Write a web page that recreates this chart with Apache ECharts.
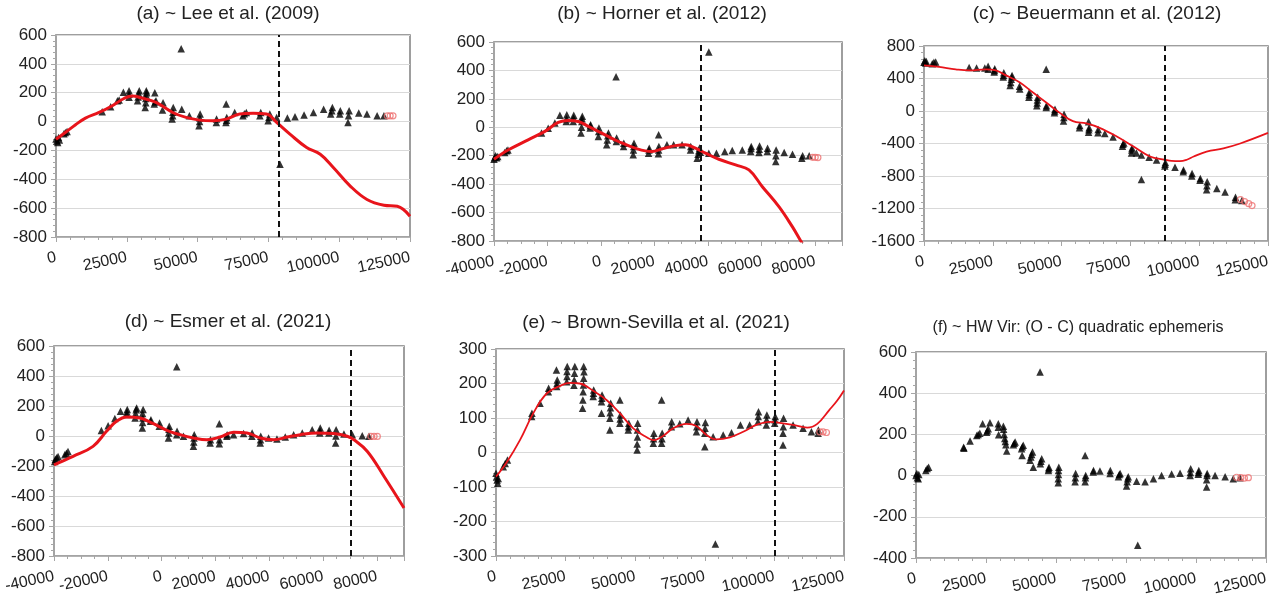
<!DOCTYPE html>
<html>
<head>
<meta charset="utf-8">
<script src="https://cdn.jsdelivr.net/npm/echarts@6/dist/echarts.min.js"></script>
<style>
html,body{margin:0;padding:0;background:#fff;}
#chart{width:1279px;height:595px;}
</style>
</head>
<body>
<div id="chart"></div>
<script>
// ---------- titles ----------
const titles = [
  '(a) ~ Lee et al. (2009)',
  '(b) ~ Horner et al. (2012)',
  '(c) ~ Beuermann et al. (2012)',
  '(d) ~ Esmer et al. (2021)',
  '(e) ~ Brown-Sevilla et al. (2021)',
  '(f) ~ HW Vir: (O - C) quadratic ephemeris'
];

// ---------- axis ranges [min, max, interval] ----------
const xRangeA = [0, 125000, 25000];
const xRangeB = [-40000, 90000, 20000];
const xRangeC = [0, 125000, 25000];
const xRangeD = [-40000, 90000, 20000];
const xRangeE = [0, 125000, 25000];
const xRangeF = [0, 125000, 25000];
const yRangeA = [-800, 600, 200];
const yRangeB = [-800, 600, 200];
const yRangeC = [-1600, 800, 400];
const yRangeD = [-800, 600, 200];
const yRangeE = [-300, 300, 100];
const yRangeF = [-400, 600, 200];

// ---------- panel (a) ----------
const aObs = [[0,-120],[300,-135],[600,-145],[900,-110],[1200,-128],[2800,-85],[3300,-75],[3900,-68],
  [16300,68],[19300,103],[21700,145],[22300,150],[23800,203],[25800,168],[25800,190],[25800,214],
  [28800,145],[29000,170],[29200,195],[29400,214],[31500,98],[31700,130],[31700,160],[31800,185],[31900,214],[32000,200],
  [34700,121],[35000,135],[35300,145],[34900,200],[37600,80],[37800,130],[41000,17],[41200,40],[41300,65],[41400,98],
  [44200,505],[44400,86],[47100,40],[50500,-29],[50700,0],[50800,25],[50900,52],[56600,-6],[56700,17],
  [60100,121],[60000,-6],[60200,10],[60300,29],[63100,63],[66000,40],[66500,55],[67200,63],[72000,40],[72300,63],
  [74900,5],[75200,30],[75500,52],[77900,29],[79100,-295],[81700,24],[84400,33],[87600,45],[90900,63],[94500,86],
  [97000,52],[97400,75],[97600,98],[100200,52],[100400,75],[103100,-6],[103300,40],[103500,75],
  [106900,59],[109800,52],[113400,40],[115800,40]];
const aNew = [[117000,40],[118000,40],[119000,40]];
const aFit = [[0,-122],[3300,-76],[6900,-22],[10400,24],[15200,63],[19900,110],[24000,160],[27000,178],[30000,165],
  [35300,133],[41200,63],[45900,29],[50700,10],[55400,5],[60100,17],[64900,52],[69600,57],[74300,52],[77900,-6],
  [82600,-87],[88500,-180],[93300,-227],[98000,-320],[103900,-447],[109800,-540],[115800,-580],[120500,-587],[125000,-656]];
const aEpoch = 78500;

// ---------- panel (b) ----------
const bObs = [[-40000,-225],[-39700,-210],[-39400,-200],[-39000,-215],[-38600,-205],[-36000,-178],[-35300,-165],[-34800,-160],
  [-22250,-41],[-19750,-6],[-17250,30],[-15400,84],[-13000,40],[-12900,60],[-12800,89],[-10400,40],[-10300,65],[-10200,84],
  [-7500,-40],[-7300,0],[-7200,40],[-7000,77],[-7100,60],[-4100,-5],[-4000,10],[-3900,18],[-1000,-64],[-900,-30],[-800,-5],
  [2100,-123],[2300,-90],[2500,-60],[2750,-41],[5600,355],[5700,-100],[5800,-76],[8400,-135],[8500,-112],
  [12000,-194],[12100,-160],[12200,-135],[12300,-112],[17750,-182],[17900,-160],[18000,-147],
  [21500,-53],[21400,-187],[21500,-160],[21600,-135],[24600,-123],[27100,-123],[30250,-123],[33400,-160],[33500,-135],
  [35900,-218],[36200,-190],[36500,-165],[36800,-145],[37100,-175],[40250,529],[40250,-182],[43100,-182],[46200,-170],
  [49000,-164],[52750,-159],[55900,-170],[56000,-150],[56100,-135],[59000,-178],[59100,-155],[59200,-131],
  [62100,-170],[62200,-147],[65250,-241],[65300,-200],[65400,-159],[68400,-178],[71500,-189],[75000,-218],[75300,-200],[77750,-201]];
const bNew = [[79000,-211],[80000,-211],[81000,-213]];
const bFit = [[-40000,-225],[-34750,-160],[-27250,-88],[-21000,-29],[-16000,34],[-12250,48],[-8500,41],[-4750,6],
  [1500,-53],[6500,-100],[12750,-147],[19000,-170],[22750,-152],[27750,-129],[31500,-123],[35250,-147],[39000,-182],
  [44000,-225],[50250,-265],[55250,-300],[60250,-418],[66500,-560],[71500,-701],[74600,-800],[77000,-870]];
const bEpoch = 37400;

// ---------- panel (c) ----------
const cObs = [[0,600],[300,620],[600,590],[850,610],[3000,583],[3600,600],[4250,604],[16400,534],[19100,530],[22100,530],
  [23300,550],[23300,513],[25500,480],[25600,500],[25700,521],[28800,417],[28900,440],[29000,471],
  [31300,313],[31500,350],[31700,390],[31900,420],[32000,438],[34700,305],[34800,272],[38100,168],[38200,200],[38300,230],
  [41000,64],[41100,100],[41200,135],[41300,168],[44400,513],[44400,43],[44500,64],[47400,-20],[47500,0],[47600,22],
  [50700,-124],[50800,-80],[50900,-40],[56500,-207],[56600,-178],[59800,-132],[59800,-261],[59900,-230],[60000,-207],
  [63200,-269],[63300,-228],[65700,-277],[68700,-319],[72100,-435],[72300,-410],[72600,-394],
  [75400,-518],[75500,-480],[75600,-456],[77200,-518],[79000,-843],[79000,-540],[81800,-569],[84500,-602],
  [87500,-677],[87600,-655],[87700,-635],[91200,-693],[94200,-747],[94300,-727],[97300,-801],[97400,-768],
  [100300,-851],[100400,-830],[102700,-968],[102800,-920],[102900,-872],[106400,-955],[109400,-997],
  [113100,-1093],[113200,-1060],[115500,-1101]];
const cNew = [[115000,-1090],[116500,-1115],[118000,-1140],[119200,-1164]];
const cFit = [[0,562],[5500,542],[11550,513],[16400,500],[22500,513],[26100,500],[29800,438],[34700,355],[39500,230],
  [44400,105],[49200,-20],[54100,-124],[59000,-153],[63800,-207],[69900,-311],[76000,-435],[82100,-560],[87500,-600],
  [90000,-615],[93000,-618],[95500,-600],[98000,-560],[102700,-500],[108800,-460],[114900,-400],[125000,-270]];
const cEpoch = 87550;

// ---------- panel (d) ----------
const dObs = [[-39750,-170],[-39500,-155],[-39000,-145],[-38500,-136],[-36000,-125],[-35400,-115],[-34800,-103],
  [-22400,36],[-19900,69],[-17400,116],[-15300,165],[-13000,143],[-12900,160],[-12800,176],
  [-9900,120],[-9700,150],[-9500,175],[-9300,187],[-7200,53],[-7100,90],[-7000,120],[-7100,150],[-6900,176],
  [-4100,98],[-4000,109],[-900,65],[-800,87],[2500,-13],[2600,20],[2700,45],[2800,65],[5600,461],[5600,9],[5700,31],
  [8100,-2],[11800,-69],[11900,-40],[12000,-13],[12100,9],[18000,-47],[18100,-25],[21400,82],[21400,-51],[21500,-25],
  [24200,-2],[24300,9],[26700,9],[30400,16],[33500,-2],[33600,20],[36600,-47],[36700,-25],[36800,-2],
  [39700,-13],[42800,-20],[45900,-7],[49000,9],[52200,20],[55900,42],[58700,20],[58800,35],[58900,53],
  [62100,20],[62200,38],[64600,-47],[64700,0],[64800,42],[67700,13],[70800,9],[74500,2],[77000,-2]];
const dNew = [[77700,-2],[78900,-2],[80100,-3]];
const dFit = [[-40000,-192],[-32900,-136],[-25500,-69],[-20500,31],[-16800,98],[-13000,127],[-8100,120],[-3100,82],
  [1900,38],[6800,9],[11800,-13],[16800,-25],[21700,-7],[26700,25],[31700,20],[36600,-13],[41600,-25],[46600,-7],
  [51500,9],[57700,20],[64000,16],[68900,-2],[71400,-25],[76400,-103],[82600,-270],[90000,-480]];
const dEpoch = 70200;

// ---------- panel (e) ----------
const eObs = [[0,-60],[200,-70],[400,-80],[600,-89],[800,-75],[2600,-41],[3300,-32],[4100,-22],
  [12800,104],[12900,114],[15800,143],[18800,176],[18900,186],[21800,191],[21900,200],[22000,210],[21700,239],
  [25400,205],[25500,220],[25500,235],[25600,249],[28000,195],[28100,210],[28200,230],[28300,249],
  [31100,128],[31200,152],[31300,176],[31400,196],[31500,215],[31600,234],[31500,249],[34900,162],[35000,172],[35100,181],
  [37900,147],[38000,157],[38100,167],[37900,114],[40900,65],[40900,99],[41000,115],[41100,130],[41200,143],
  [44500,152],[44500,85],[44600,97],[44700,109],[47500,65],[47600,75],[47700,85],
  [50700,7],[50700,25],[50800,45],[50800,65],[50900,85],[56500,27],[56600,40],[56700,56],
  [59500,152],[59500,27],[59600,40],[59700,56],[63000,75],[63100,89],[66000,83],[69000,94],
  [72000,60],[72100,75],[72200,89],[75000,17],[75000,56],[75100,70],[75200,87],[78000,46],[78800,-265],
  [81600,51],[84600,57],[87800,80],[91100,80],[94100,89],[94200,104],[94300,118],[97100,80],[97200,95],[97300,109],
  [100100,85],[100200,95],[100300,104],[103100,22],[103100,56],[103200,75],[103300,99],
  [106700,80],[110300,70],[113300,60],[115700,56],[115800,65]];
const eNew = [[116300,60],[117500,60],[118700,58]];
const eFit = [[0,-70],[3800,-29],[8600,36],[13400,114],[18200,171],[23000,193],[26600,202],[30100,200],[34900,179],
  [39700,152],[44500,114],[49300,70],[54100,44],[56500,36],[60000,48],[63600,70],[68400,83],[72000,77],[75600,51],
  [79200,38],[84000,44],[88800,60],[93500,80],[98300,89],[101900,86],[106700,80],[111800,72],[115400,83],
  [119700,123],[122500,150],[125000,180]];
const eEpoch = 100300;

// ---------- panel (f) ----------
const fObs = [[0,0],[300,10],[500,-10],[800,-15],[1000,5],[3500,25],[4000,35],[4500,40],[17000,138],[17100,133],
  [19300,168],[21700,195],[22200,200],[22800,205],[23800,252],[25200,210],[25500,218],[25800,228],[26400,257],
  [29400,252],[29400,235],[29500,198],[31200,240],[31300,225],[31500,200],[31700,180],[31900,165],[32100,150],[32400,120],
  [34800,150],[35100,157],[35400,163],[37700,130],[38000,140],[38300,147],[37900,98],
  [40700,75],[41000,90],[41300,103],[41600,115],[41900,40],[44300,503],[44400,58],[44600,70],[44900,82],
  [47300,25],[47400,33],[47500,40],[50800,-35],[50800,-15],[50900,5],[50900,25],[51000,40],
  [56800,-30],[56900,-10],[57000,10],[60400,98],[60400,-30],[60500,-10],[60600,0],[63300,18],[63400,25],[65700,22],
  [69300,10],[69400,25],[72300,-5],[72600,5],[72900,10],[75200,-50],[75400,-30],[75600,-15],[75800,-5],
  [78800,-27],[79200,-338],[81800,-30],[84800,-15],[87700,0],[91300,8],[94300,12],[97900,0],[98000,15],[98100,33],
  [100800,6],[100900,15],[101000,25],[103800,-55],[103800,-20],[103900,0],[104000,10],
  [106800,0],[110400,-5],[113300,-15],[115700,-10]];
const fNew = [[114500,-8],[116000,-10],[117300,-12],[118700,-10]];

// ---------- layout (positions / styles) ----------
const panels = [
  {grid:{left:56, top:35, width:354, height:202}, tx:228, ty:4,   tfs:19, x:xRangeA, y:yRangeA, xs:5, obs:aObs, nw:aNew, fit:aFit, ep:aEpoch, lw:3},
  {grid:{left:494,top:42, width:348, height:199}, tx:662, ty:4,   tfs:19, x:xRangeB, y:yRangeB, xs:4, obs:bObs, nw:bNew, fit:bFit, ep:bEpoch, lw:3},
  {grid:{left:924,top:46, width:344, height:195}, tx:1097,ty:4,   tfs:19, x:xRangeC, y:yRangeC, xs:5, obs:cObs, nw:cNew, fit:cFit, ep:cEpoch, lw:1.8},
  {grid:{left:54, top:346,width:350, height:210}, tx:228, ty:312, tfs:19, x:xRangeD, y:yRangeD, xs:4, obs:dObs, nw:dNew, fit:dFit, ep:dEpoch, lw:3},
  {grid:{left:496,top:349,width:348, height:207}, tx:656, ty:313, tfs:19, x:xRangeE, y:yRangeE, xs:5, obs:eObs, nw:eNew, fit:eFit, ep:eEpoch, lw:1.8},
  {grid:{left:916,top:352,width:350, height:206}, tx:1078,ty:320, tfs:16, x:xRangeF, y:yRangeF, xs:5, obs:fObs, nw:fNew, fit:null, ep:null, lw:0}
];

const FONT = '"Liberation Sans", Arial, sans-serif';
const AX = '#a6a6a6';
const plain = v => String(v);

const option = {
  animation: false,
  backgroundColor: '#ffffff',
  title: [], grid: [], xAxis: [], yAxis: [], series: []
};

panels.forEach((p, i) => {
  option.title.push({
    text: titles[i], left: p.tx, top: p.ty, textAlign: 'center', padding: 0,
    textStyle: {fontFamily: FONT, fontSize: p.tfs, fontWeight: 'normal', color: '#222'}
  });
  option.grid.push(Object.assign({show: true, borderColor: '#7f7f7f', borderWidth: 1.5,
    backgroundColor: 'transparent', containLabel: false, outerBoundsMode: 'none'}, p.grid));
  option.xAxis.push({
    type: 'value', gridIndex: i, min: p.x[0], max: p.x[1], interval: p.x[2],
    axisLine: {show: true, onZero: false, lineStyle: {color: AX, width: 1.5}},
    axisTick: {show: true, length: 5, lineStyle: {color: AX}},
    minorTick: {show: true, splitNumber: p.xs, length: 3, lineStyle: {color: AX}},
    splitLine: {show: false},
    axisLabel: {fontFamily: FONT, fontSize: 16, color: '#222', rotate: 12, margin: 20,
      formatter: plain, hideOverlap: false, showMinLabel: true,
      showMaxLabel: p.x[1] % p.x[2] === 0}
  });
  option.yAxis.push({
    type: 'value', gridIndex: i, min: p.y[0], max: p.y[1], interval: p.y[2],
    axisLine: {show: true, onZero: false, lineStyle: {color: AX, width: 1.5}},
    axisTick: {show: true, length: 5, lineStyle: {color: AX}},
    minorTick: {show: true, splitNumber: 5, length: 3, lineStyle: {color: AX}},
    splitLine: {show: true, lineStyle: {color: '#d9d9d9', width: 1}},
    axisLabel: {fontFamily: FONT, fontSize: 17, color: '#222', margin: 9, formatter: plain}
  });
  const obsSeries = {
    type: 'scatter', xAxisIndex: i, yAxisIndex: i, data: p.obs,
    symbol: 'triangle', symbolSize: 7.5, itemStyle: {color: '#000'}, z: 3
  };
  if (p.ep !== null) {
    obsSeries.markLine = {
      silent: true, symbol: 'none', label: {show: false},
      lineStyle: {type: [6, 4], color: '#111', width: 2},
      data: [{xAxis: p.ep}]
    };
  }
  option.series.push(obsSeries);
  if (p.fit) {
    option.series.push({
      type: 'line', xAxisIndex: i, yAxisIndex: i, data: p.fit, smooth: 0.4, showSymbol: false,
      clip: true, lineStyle: {color: '#e8141b', width: p.lw}, z: 4
    });
  }
  option.series.push({
    type: 'scatter', xAxisIndex: i, yAxisIndex: i, data: p.nw,
    symbol: 'circle', symbolSize: 6,
    itemStyle: {color: 'rgba(255,255,255,0)', borderColor: '#ee6f6f', borderWidth: 1.2}, z: 5
  });
});

const chart = echarts.init(document.getElementById('chart'), null, {renderer: 'canvas'});
chart.setOption(option);
</script>
</body>
</html>
